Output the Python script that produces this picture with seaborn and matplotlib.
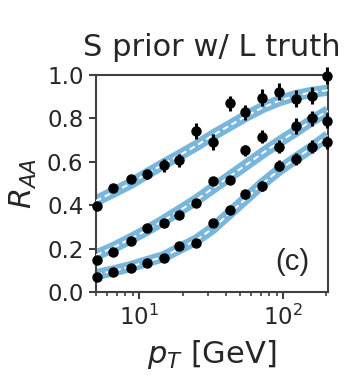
import numpy as np
import pandas as pd
import seaborn as sns
import matplotlib
matplotlib.use("Agg")
import matplotlib.pyplot as plt
from matplotlib.ticker import NullFormatter

# ---- data ----
pt = [5.1, 6.6, 8.7, 11.3, 14.8, 19.0, 24.9, 32.4, 42.4, 54.5, 71.5, 93.3, 122, 158, 203]

raa_top = [0.398, 0.48, 0.52, 0.542, 0.584, 0.608, 0.742, 0.691, 0.87, 0.829, 0.895, 0.923, 0.891, 0.905, 0.997]
err_top = [0.012, 0.014, 0.016, 0.02, 0.03, 0.03, 0.035, 0.035, 0.035, 0.035, 0.04, 0.04, 0.04, 0.04, 0.04]

raa_mid = [0.147, 0.183, 0.235, 0.293, 0.319, 0.355, 0.412, 0.513, 0.516, 0.654, 0.716, 0.67, 0.765, 0.80, 0.79]
err_mid = [0.008, 0.008, 0.01, 0.01, 0.012, 0.012, 0.014, 0.016, 0.02, 0.025, 0.03, 0.03, 0.035, 0.035, 0.035]

raa_low = [0.068, 0.092, 0.109, 0.134, 0.155, 0.212, 0.226, 0.318, 0.379, 0.45, 0.488, 0.582, 0.613, 0.67, 0.69]
err_low = [0.006, 0.006, 0.008, 0.008, 0.01, 0.01, 0.012, 0.014, 0.016, 0.02, 0.022, 0.025, 0.028, 0.03, 0.03]

pt_curve = [5, 6.6, 8.7, 11.3, 14.8, 19, 25, 32, 42, 55, 72, 93, 122, 158, 205]
curve_top = [0.42, 0.46, 0.50, 0.545, 0.59, 0.63, 0.675, 0.72, 0.765, 0.81, 0.85, 0.88, 0.905, 0.92, 0.93]
curve_mid = [0.17, 0.205, 0.245, 0.285, 0.33, 0.375, 0.425, 0.475, 0.53, 0.585, 0.64, 0.69, 0.74, 0.79, 0.835]
curve_low = [0.08, 0.097, 0.117, 0.14, 0.163, 0.2, 0.24, 0.29, 0.36, 0.43, 0.50, 0.56, 0.615, 0.665, 0.72]

title = "S prior w/ L truth"
panel_label = "(c)"

sns.set_theme(style="ticks")
plt.rcParams["font.family"] = ["DejaVu Sans"]
plt.rcParams["mathtext.fontset"] = "dejavusans"

fig = plt.figure(figsize=(3.45, 3.75), dpi=100)
ax = fig.add_axes([96 / 345, 1 - 292 / 375, (328 - 96) / 345, (292 - 75) / 375])

band_color = "#6aaed8"
for cv in (curve_top, curve_mid, curve_low):
    df = pd.DataFrame({"pt": pt_curve, "raa": cv})
    sns.lineplot(data=df, x="pt", y="raa", ax=ax, color=band_color, lw=8, alpha=0.9,
                 solid_capstyle="butt", zorder=2)
    sns.lineplot(data=df, x="pt", y="raa", ax=ax, color="white", lw=1.4,
                 dashes=False, zorder=3)
    ax.lines[-1].set_linestyle((0, (3, 2)))

for vals, errs in ((raa_top, err_top), (raa_mid, err_mid), (raa_low, err_low)):
    ax.errorbar(pt, vals, yerr=errs, fmt="o", color="black", ms=6.5, elinewidth=2.2,
                capsize=0, zorder=4, clip_on=False)

ax.set_xscale("log")
ax.set_xlim(5, 205)
ax.set_ylim(0, 1)
ax.set_yticks([0.0, 0.2, 0.4, 0.6, 0.8, 1.0])
ax.xaxis.set_minor_formatter(NullFormatter())
ax.tick_params(axis="both", which="major", labelsize=16.5, length=5, width=1.5,
               color=".25", pad=4)
ax.tick_params(axis="x", which="minor", length=3, width=1.2, color=".25")
for s in ax.spines.values():
    s.set_linewidth(1.5)
    s.set_color(".25")

ax.set_xlabel(r"$p_T$ [GeV]", fontsize=22, labelpad=6)
ax.set_ylabel(r"$R_{AA}$", fontsize=22, labelpad=6)
ax.set_title(title, fontsize=22, pad=14)
ax.text(0.845, 0.138, panel_label, transform=ax.transAxes, fontsize=21,
        family=["Liberation Sans"], ha="center", va="center")

fig.savefig("out.png", dpi=100)
